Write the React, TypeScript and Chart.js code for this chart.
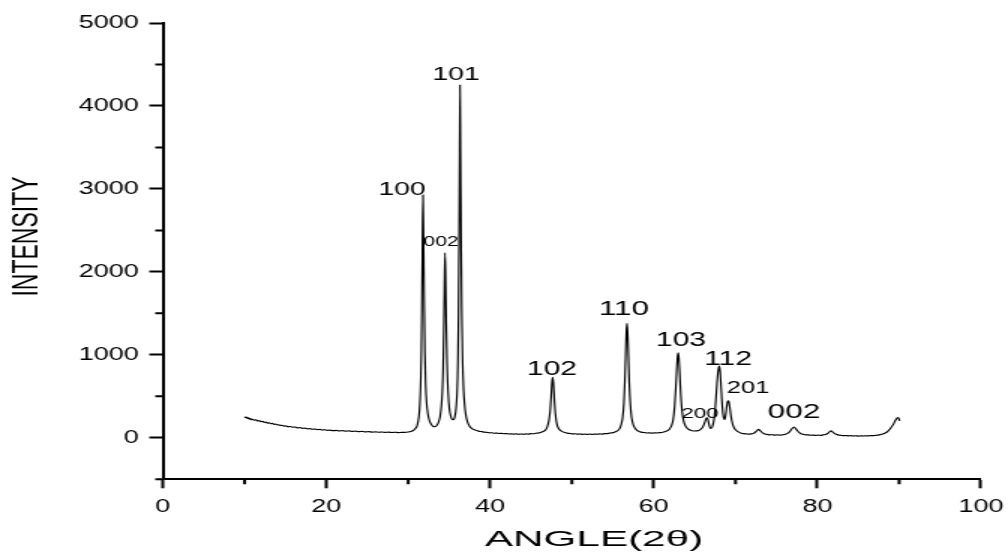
import { useEffect, useRef } from 'react';
import { Chart, registerables } from 'chart.js';

Chart.register(...registerables);

// XRD pattern: [angle 2θ, intensity]
const xrdPattern: [number, number][] = [
  [10.0, 254], [10.1, 244], [10.2, 249], [10.3, 237], [10.4, 243], [10.5, 230], [10.6, 236], [10.7, 223],
  [10.8, 229], [10.9, 217], [11.0, 224], [11.2, 212], [11.4, 217], [11.6, 203], [11.8, 208], [12.0, 195],
  [12.2, 199], [12.4, 186], [12.6, 190], [12.8, 178], [13.0, 182], [13.2, 170], [13.4, 174], [13.6, 162],
  [13.8, 166], [14.0, 155], [14.2, 158], [14.4, 148], [14.6, 151], [14.8, 141], [15.0, 145], [15.3, 134],
  [15.6, 137], [15.9, 127], [16.2, 130], [16.5, 120], [16.8, 123], [17.1, 114], [17.4, 117], [17.7, 108],
  [18.0, 111], [18.3, 103], [18.6, 106], [18.9, 98], [19.2, 101], [19.5, 94], [19.8, 97], [20.1, 90],
  [20.4, 93], [20.8, 86], [21.2, 89], [21.6, 83], [22.0, 86], [22.4, 80], [22.8, 83], [23.2, 77],
  [23.6, 80], [24.0, 74], [24.4, 77], [24.8, 71], [25.2, 74], [25.6, 69], [26.0, 72], [26.4, 67],
  [26.8, 70], [27.2, 65], [27.6, 68], [28.0, 64], [28.4, 67], [28.8, 63], [29.2, 66], [29.6, 66],
  [30.0, 70], [30.3, 76], [30.6, 88], [30.85, 110], [31.1, 150],
  // 100
  [31.3, 250], [31.42, 400], [31.52, 650], [31.6, 1000], [31.67, 1550], [31.74, 2350], [31.81, 2926],
  [31.88, 2400], [31.95, 1650], [32.03, 1050], [32.13, 650], [32.25, 420], [32.4, 290], [32.6, 205],
  [32.8, 165], [33.0, 142], [33.2, 133], [33.45, 145], [33.7, 185], [33.9, 260], [34.05, 380],
  // 002
  [34.17, 560], [34.27, 850], [34.36, 1350], [34.43, 1850], [34.5, 2230], [34.57, 1900], [34.65, 1350],
  [34.75, 880], [34.88, 540], [35.02, 360], [35.2, 260], [35.4, 220], [35.55, 218], [35.7, 255], [35.85, 360],
  // 101
  [35.97, 540], [36.07, 900], [36.15, 1500], [36.22, 2400], [36.28, 3400], [36.33, 4252], [36.39, 3450],
  [36.46, 2400], [36.54, 1550], [36.64, 950], [36.76, 590], [36.9, 390], [37.05, 270], [37.25, 190],
  [37.5, 140], [37.8, 112], [38.1, 96], [38.4, 88], [38.7, 78], [39.0, 74], [39.3, 68], [39.6, 66],
  [39.9, 60], [40.2, 61], [40.5, 55], [40.8, 57], [41.1, 52], [41.4, 54], [41.7, 49], [42.0, 51],
  [42.3, 46], [42.6, 48], [42.9, 44], [43.2, 47], [43.5, 43], [43.8, 46], [44.1, 43], [44.4, 47],
  [44.7, 45], [45.0, 50], [45.3, 49], [45.6, 55], [45.9, 58], [46.2, 66], [46.5, 76], [46.8, 96],
  // 102
  [47.0, 135], [47.2, 210], [47.35, 330], [47.47, 500], [47.57, 670], [47.66, 728], [47.75, 650],
  [47.86, 460], [48.0, 280], [48.15, 175], [48.35, 118], [48.6, 90], [48.9, 72], [49.2, 62], [49.5, 54],
  [49.8, 52], [50.1, 47], [50.4, 49], [50.7, 44], [51.0, 46], [51.3, 42], [51.6, 45], [51.9, 41],
  [52.2, 44], [52.5, 41], [52.8, 45], [53.1, 43], [53.4, 47], [53.7, 45], [54.0, 50], [54.3, 51],
  [54.6, 56], [54.9, 60], [55.2, 68], [55.5, 80], [55.8, 105],
  // 110
  [56.0, 150], [56.2, 240], [56.36, 420], [56.48, 700], [56.58, 1020], [56.66, 1280], [56.74, 1379],
  [56.82, 1270], [56.91, 990], [57.02, 650], [57.15, 400], [57.3, 245], [57.5, 160], [57.75, 112],
  [58.0, 86], [58.3, 74], [58.6, 66], [58.9, 63], [59.2, 58], [59.5, 60], [59.8, 56], [60.1, 60],
  [60.4, 58], [60.7, 63], [61.0, 64], [61.3, 72], [61.6, 82], [61.9, 102],
  // 103
  [62.15, 140], [62.38, 220], [62.56, 380], [62.7, 600], [62.82, 830], [62.92, 980], [63.0, 1025],
  [63.08, 960], [63.18, 780], [63.3, 540], [63.45, 340], [63.62, 220], [63.85, 150], [64.15, 110],
  [64.5, 90], [64.9, 82], [65.3, 84], [65.7, 100],
  // 200
  [66.0, 130], [66.25, 190], [66.45, 238], [66.55, 242], [66.7, 190], [66.85, 130], [67.0, 112],
  // 112 + 201
  [67.2, 140], [67.4, 240], [67.58, 430], [67.74, 660], [67.9, 820], [68.02, 864], [68.12, 800],
  [68.25, 590], [68.4, 360], [68.55, 240], [68.68, 220], [68.8, 280], [68.93, 380], [69.05, 440],
  [69.15, 446], [69.28, 380], [69.45, 260], [69.65, 165], [69.85, 115], [70.1, 88], [70.4, 68],
  [70.7, 56], [71.0, 50], [71.3, 47], [71.6, 44], [71.9, 47], [72.15, 53], [72.4, 66],
  // small peaks
  [72.6, 85], [72.8, 102], [73.0, 86], [73.3, 60], [73.6, 46], [73.9, 40], [74.2, 36], [74.5, 37],
  [74.8, 33], [75.1, 35], [75.4, 32], [75.7, 36], [76.0, 40], [76.3, 50], [76.6, 72], [76.9, 110],
  [77.15, 130], [77.4, 105], [77.7, 70], [78.0, 50], [78.3, 42], [78.6, 36], [78.9, 35], [79.2, 31],
  [79.5, 33], [79.8, 29], [80.1, 32], [80.4, 30], [80.7, 35], [81.0, 40], [81.3, 55], [81.65, 84],
  [82.0, 60], [82.3, 42], [82.6, 33], [82.9, 30], [83.2, 26], [83.5, 28], [83.8, 24], [84.1, 26],
  [84.4, 22], [84.7, 25], [85.0, 21], [85.3, 24], [85.6, 22], [85.9, 25], [86.2, 23], [86.5, 27],
  [86.8, 26], [87.1, 30], [87.4, 33], [87.7, 38], [88.0, 46], [88.3, 58], [88.6, 78], [88.9, 110],
  [89.3, 165], [89.55, 212], [89.72, 236], [89.88, 244], [90.05, 205],
];

const xMajorTicks = [0, 20, 40, 60, 80, 100];
const xMinorTicks = [10, 30, 50, 70, 90];
const yMajorTicks = [0, 1000, 2000, 3000, 4000, 5000];
const yMinorTicks = [-500, 500, 1500, 2500, 3500, 4500];

const peakLabels = ['100', '002', '101', '102', '110', '103', '200', '112', '201', '002'];
const peakLabelAngles = [29.24, 34.01, 35.84, 47.57, 56.37, 63.34, 65.66, 69.08, 71.53, 77.15];
const peakLabelIntensities = [2986, 2360, 4373, 828, 1546, 1172, 292, 949, 599, 304];
const peakLabelSizes = [19, 14, 19, 20, 21, 20, 15, 20, 17, 21];

const xAxisTitle = 'ANGLE(2θ)';
const yAxisTitle = 'INTENSITY';

const FONT = '"Liberation Sans", Arial, sans-serif';

const decorPlugin = {
  id: 'xrdDecor',
  afterDraw(chart: any) {
    const { ctx, chartArea, scales } = chart;
    const xs = scales.x;
    const ys = scales.y;
    ctx.save();
    // minor ticks
    ctx.strokeStyle = '#000';
    ctx.lineWidth = 2;
    ctx.beginPath();
    for (const v of yMinorTicks) {
      const py = ys.getPixelForValue(v);
      ctx.moveTo(chartArea.left - 5, py);
      ctx.lineTo(chartArea.left, py);
    }
    for (const v of xMinorTicks) {
      const px = xs.getPixelForValue(v);
      ctx.moveTo(px, chartArea.bottom);
      ctx.lineTo(px, chartArea.bottom + 5);
    }
    ctx.stroke();

    // peak labels
    ctx.fillStyle = '#000';
    ctx.textAlign = 'center';
    ctx.textBaseline = 'middle';
    peakLabels.forEach((t, i) => {
      ctx.font = `${peakLabelSizes[i]}px ${FONT}`;
      ctx.fillText(t, xs.getPixelForValue(peakLabelAngles[i]), ys.getPixelForValue(peakLabelIntensities[i]));
    });

    // axis titles
    ctx.font = `23px ${FONT}`;
    ctx.save();
    ctx.translate(18.3, 236.5);
    ctx.rotate(-Math.PI / 2);
    ctx.fillText(yAxisTitle, 0, 0);
    ctx.restore();

    ctx.font = `22px ${FONT}`;
    ctx.save();
    ctx.translate(396, 540);
    ctx.scale(1.28, 1);
    ctx.fillText(xAxisTitle, 0, 0);
    ctx.restore();

    ctx.restore();
  },
};

export default function App() {
  const canvasRef = useRef<HTMLCanvasElement | null>(null);

  useEffect(() => {
    const canvas = canvasRef.current;
    if (!canvas) return;
    const chart = new Chart(canvas, {
      type: 'line',
      data: {
        datasets: [
          {
            data: xrdPattern.map(([x, y]) => ({ x, y })),
            borderColor: '#000',
            borderWidth: 1.15,
            pointRadius: 0,
            cubicInterpolationMode: 'monotone',
            fill: false,
          },
        ],
      },
      options: {
        animation: false,
        responsive: false,
        devicePixelRatio: 1,
        layout: { padding: { top: 23, right: 18, left: 0, bottom: 0 } },
        plugins: { legend: { display: false }, tooltip: { enabled: false }, title: { display: false } },
        scales: {
          x: {
            type: 'linear',
            min: 0,
            max: 100,
            afterBuildTicks: (scale: any) => {
              scale.ticks = xMajorTicks.map((value) => ({ value }));
            },
            ticks: {
              color: '#000',
              font: { family: FONT, size: 18, lineHeight: 1.76 },
              padding: 3,
              maxRotation: 0,
              autoSkip: false,
              callback: (v: any) => String(v),
            },
            grid: { display: true, drawOnChartArea: false, drawTicks: true, tickLength: 9, tickWidth: 2, tickColor: '#000' },
            border: { display: true, color: '#000', width: 2 },
            title: { display: false },
            afterFit: (scale: any) => {
              scale.height = 72.7;
            },
          },
          y: {
            type: 'linear',
            min: -500,
            max: 5000,
            afterBuildTicks: (scale: any) => {
              scale.ticks = yMajorTicks.map((value) => ({ value }));
            },
            ticks: { color: '#000', font: { family: FONT, size: 18 }, padding: 7, autoSkip: false, callback: (v: any) => String(v) },
            grid: { display: true, drawOnChartArea: false, drawTicks: true, tickLength: 9, tickWidth: 2, tickColor: '#000' },
            border: { display: true, color: '#000', width: 2 },
            title: { display: false },
            afterFit: (scale: any) => {
              scale.width = 108.5;
            },
          },
        },
      },
      plugins: [decorPlugin],
    } as any);
    return () => chart.destroy();
  }, []);

  return (
    <div style={{ position: 'fixed', left: 0, top: 0, width: 1008, height: 552, background: '#fff', overflow: 'hidden' }}>
      <canvas ref={canvasRef} width={672} height={552} style={{ width: '1008px', height: '552px', display: 'block' }} />
    </div>
  );
}
